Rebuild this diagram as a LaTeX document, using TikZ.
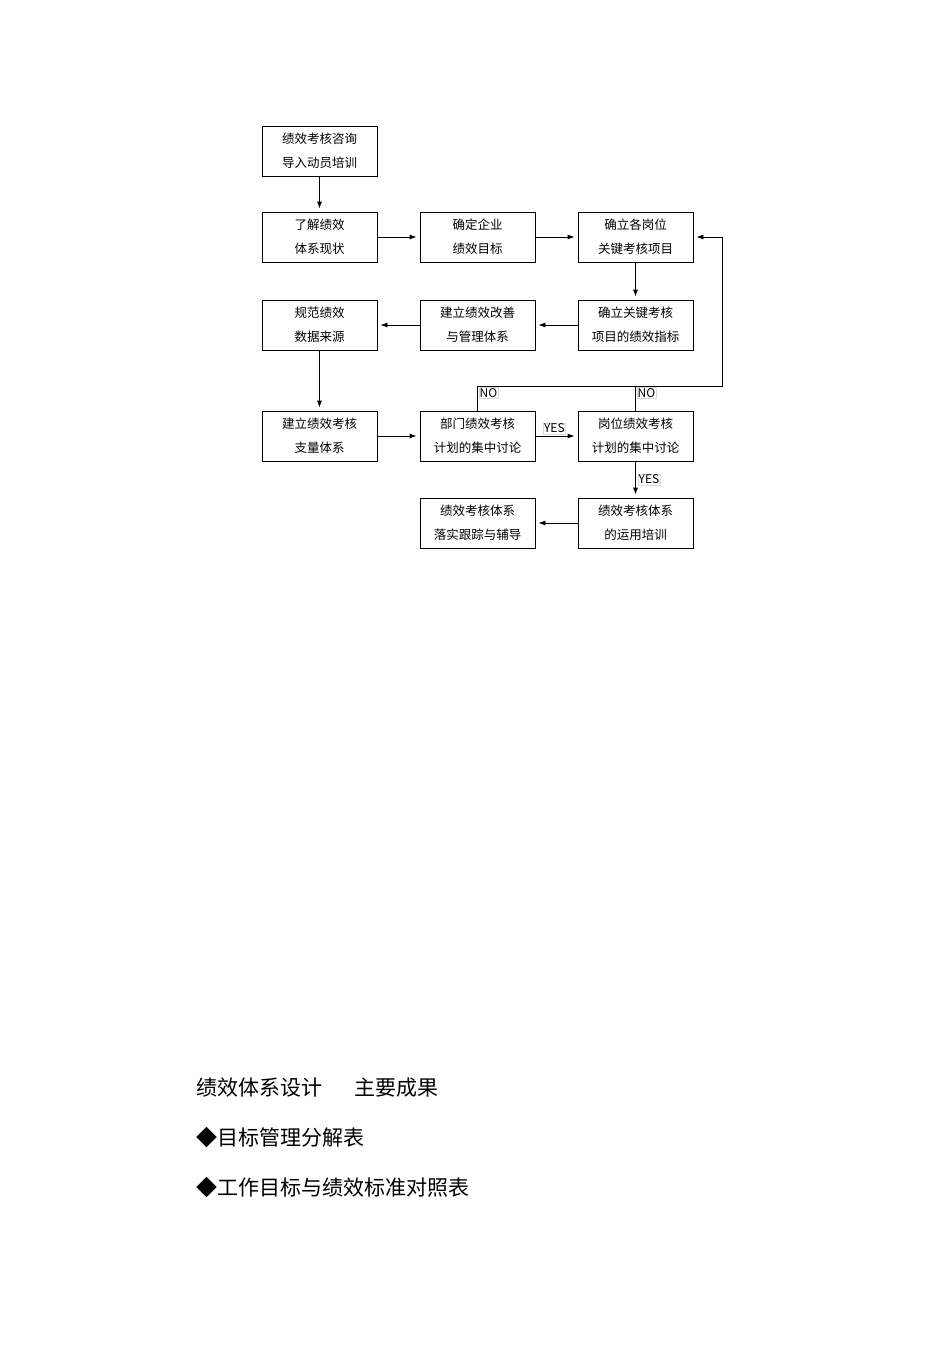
\documentclass[tikz,border=0pt]{standalone}
\usepackage{fontspec}
\setmainfont{Noto Sans CJK SC}
\usetikzlibrary{arrows.meta}
\begin{document}
\begin{tikzpicture}[x=1pt,y=-1pt,
  bx/.style={draw,line width=0.8pt,minimum width=115pt,minimum height=50pt,align=center,font=\fontsize{12.5}{24}\selectfont,inner sep=0pt},
  ar/.style={-{Latex[length=7pt,width=5pt]},line width=0.8pt,shorten >=3pt},
  ln/.style={line width=0.8pt},
  lb/.style={font=\fontsize{12}{12}\selectfont\rmfamily,inner sep=1pt,draw=gray!30,line width=0.4pt}]
\useasboundingbox (0,0) rectangle (950,1345);
\node[bx] (a) at (319.5,151) {绩效考核咨询\\导入动员培训};
\node[bx] (b1) at (319.5,237) {了解绩效\\体系现状};
\node[bx] (b2) at (477.5,237) {确定企业\\绩效目标};
\node[bx] (b3) at (635.5,237) {确立各岗位\\关键考核项目};
\node[bx] (c1) at (319.5,325) {规范绩效\\数据来源};
\node[bx] (c2) at (477.5,325) {建立绩效改善\\与管理体系};
\node[bx] (c3) at (635.5,325) {确立关键考核\\项目的绩效指标};
\node[bx] (d1) at (319.5,436) {建立绩效考核\\支量体系};
\node[bx] (d2) at (477.5,436) {部门绩效考核\\计划的集中讨论};
\node[bx] (d3) at (635.5,436) {岗位绩效考核\\计划的集中讨论};
\node[bx] (e2) at (477.5,523) {绩效考核体系\\落实跟踪与辅导};
\node[bx] (e3) at (635.5,523) {绩效考核体系\\的运用培训};
\draw[ar] (a) -- (b1);
\draw[ar] (b1) -- (b2);
\draw[ar] (b2) -- (b3);
\draw[ar] (b3) -- (c3);
\draw[ar] (c3) -- (c2);
\draw[ar] (c2) -- (c1);
\draw[ar] (c1) -- (d1);
\draw[ar] (d1) -- (d2);
\draw[ar] (d2) -- node[above,lb,pos=0.45,yshift=2pt]{YES} (d3);
\draw[ar] (d3) -- node[right,lb,xshift=2pt]{YES} (e3);
\draw[ar] (e3) -- (e2);
\coordinate (k1) at (477.5,386);
\coordinate (k2) at (722,386);
\coordinate (k3) at (722,237);
\draw[ln] (d2.north) -- (k1) node[below right,lb,xshift=1pt,yshift=-1pt]{NO};
\draw[ln] (d3.north) -- (635.5,386) node[below right,lb,xshift=1pt,yshift=-1pt]{NO};
\draw[ar] (k1) -- (k2) -- (k3) -- (b3.east);
\node[anchor=west,font=\fontsize{21}{21}\selectfont] (t1) at (193,1088) {绩效体系设计\hspace{1.5em}主要成果};
\node[anchor=west,font=\fontsize{21}{21}\selectfont] (t2) at (193,1138) {◆目标管理分解表};
\node[anchor=west,font=\fontsize{21}{21}\selectfont] (t3) at (193,1188) {◆工作目标与绩效标准对照表};
\end{tikzpicture}
\end{document}
